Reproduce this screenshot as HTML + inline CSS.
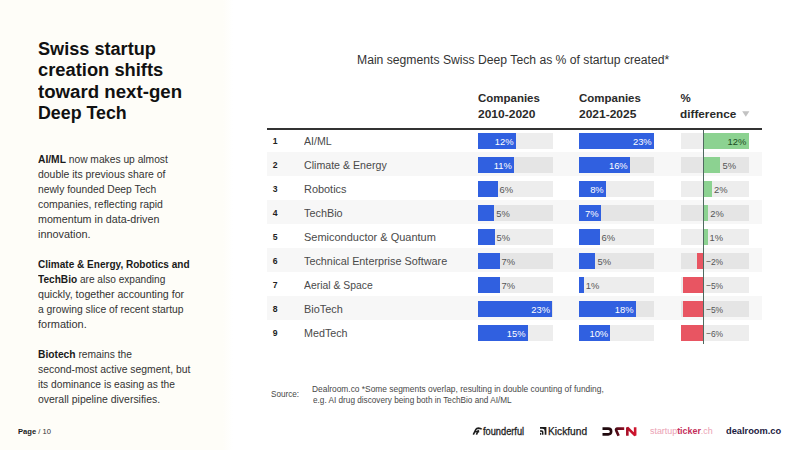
<!DOCTYPE html>
<html><head><meta charset="utf-8"><style>
html,body{margin:0;padding:0;}
body{width:800px;height:450px;position:relative;overflow:hidden;background:#fff;font-family:"Liberation Sans", sans-serif;}
.t{position:absolute;white-space:nowrap;transform-origin:left top;}
.r{position:absolute;}
b{font-weight:700;color:#1a1a1a;}
</style></head><body>
<div class="r" style="left:0.00px;top:0.00px;width:234.00px;height:450.00px;background:#fefdf8;background:linear-gradient(to right,#fefdf8 0,#fefdf8 223px,#fff 233px);"></div>
<div class="t" style="left:38.00px;top:39.76px;font-size:18px;line-height:18px;font-weight:700;color:#111;transform:scaleX(1.0069);">Swiss startup</div>
<div class="t" style="left:38.00px;top:61.26px;font-size:18px;line-height:18px;font-weight:700;color:#111;transform:scaleX(1.0181);">creation shifts</div>
<div class="t" style="left:38.00px;top:82.76px;font-size:18px;line-height:18px;font-weight:700;color:#111;transform:scaleX(1.0362);">toward next-gen</div>
<div class="t" style="left:38.00px;top:104.26px;font-size:18px;line-height:18px;font-weight:700;color:#111;transform:scaleX(0.9888);">Deep Tech</div>
<div class="t" style="left:37.60px;top:155.03px;font-size:10px;line-height:10px;font-weight:400;color:#333;transform:scaleX(1.0245);"><b>AI/ML</b> now makes up almost</div>
<div class="t" style="left:37.60px;top:170.03px;font-size:10px;line-height:10px;font-weight:400;color:#333;transform:scaleX(1.0425);">double its previous share of</div>
<div class="t" style="left:37.60px;top:185.03px;font-size:10px;line-height:10px;font-weight:400;color:#333;transform:scaleX(1.0289);">newly founded Deep Tech</div>
<div class="t" style="left:37.60px;top:200.03px;font-size:10px;line-height:10px;font-weight:400;color:#333;transform:scaleX(1.0452);">companies, reflecting rapid</div>
<div class="t" style="left:37.60px;top:215.03px;font-size:10px;line-height:10px;font-weight:400;color:#333;transform:scaleX(1.0705);">momentum in data-driven</div>
<div class="t" style="left:37.60px;top:230.03px;font-size:10px;line-height:10px;font-weight:400;color:#333;transform:scaleX(1.0848);">innovation.</div>
<div class="t" style="left:37.60px;top:260.04px;font-size:10px;line-height:10px;font-weight:400;color:#333;transform:scaleX(1.0040);"><b>Climate &amp; Energy, Robotics and</b></div>
<div class="t" style="left:37.60px;top:275.04px;font-size:10px;line-height:10px;font-weight:400;color:#333;transform:scaleX(1.0104);"><b>TechBio</b> are also expanding</div>
<div class="t" style="left:37.60px;top:290.04px;font-size:10px;line-height:10px;font-weight:400;color:#333;transform:scaleX(1.0612);">quickly, together accounting for</div>
<div class="t" style="left:37.60px;top:305.04px;font-size:10px;line-height:10px;font-weight:400;color:#333;transform:scaleX(1.0311);">a growing slice of recent startup</div>
<div class="t" style="left:37.60px;top:320.04px;font-size:10px;line-height:10px;font-weight:400;color:#333;transform:scaleX(1.0951);">formation.</div>
<div class="t" style="left:37.60px;top:350.04px;font-size:10px;line-height:10px;font-weight:400;color:#333;transform:scaleX(1.0241);"><b>Biotech</b> remains the</div>
<div class="t" style="left:37.60px;top:365.04px;font-size:10px;line-height:10px;font-weight:400;color:#333;transform:scaleX(1.0383);">second-most active segment, but</div>
<div class="t" style="left:37.60px;top:380.04px;font-size:10px;line-height:10px;font-weight:400;color:#333;transform:scaleX(1.0218);">its dominance is easing as the</div>
<div class="t" style="left:37.60px;top:395.04px;font-size:10px;line-height:10px;font-weight:400;color:#333;transform:scaleX(1.0464);">overall pipeline diversifies.</div>
<div class="t" style="left:18.49px;top:428.03px;font-size:8px;line-height:8px;font-weight:400;color:#333;transform:scaleX(0.9487);"><b>Page</b> / 10</div>
<div class="t" style="left:356.86px;top:53.84px;font-size:12px;line-height:12px;font-weight:400;color:#333;transform:scaleX(1.0140);">Main segments Swiss Deep Tech as % of startup created*</div>
<div class="t" style="left:478.34px;top:93.07px;font-size:11.5px;line-height:11.5px;font-weight:700;color:#2a2a2a;transform:scaleX(0.9985);">Companies</div>
<div class="t" style="left:478.34px;top:108.87px;font-size:11.5px;line-height:11.5px;font-weight:700;color:#2a2a2a;transform:scaleX(1.0446);">2010-2020</div>
<div class="t" style="left:579.10px;top:93.07px;font-size:11.5px;line-height:11.5px;font-weight:700;color:#2a2a2a;transform:scaleX(0.9985);">Companies</div>
<div class="t" style="left:579.10px;top:108.87px;font-size:11.5px;line-height:11.5px;font-weight:700;color:#2a2a2a;transform:scaleX(1.0428);">2021-2025</div>
<div class="t" style="left:680.50px;top:93.07px;font-size:11.5px;line-height:11.5px;font-weight:700;color:#2a2a2a;">%</div>
<div class="t" style="left:680.10px;top:108.87px;font-size:11.5px;line-height:11.5px;font-weight:700;color:#2a2a2a;transform:scaleX(1.0235);">difference</div>
<svg style="position:absolute;left:742px;top:111px" width="8" height="6" viewBox="0 0 8 6"><path d="M0.2 0.2 H7.4 L3.8 5.8 Z" fill="#c2c2c2"/></svg>
<div class="r" style="left:266.70px;top:151.70px;width:495.30px;height:24.00px;background:#f7f7f7;"></div>
<div class="r" style="left:266.70px;top:199.70px;width:495.30px;height:24.00px;background:#f7f7f7;"></div>
<div class="r" style="left:266.70px;top:247.70px;width:495.30px;height:24.00px;background:#f7f7f7;"></div>
<div class="r" style="left:266.70px;top:295.70px;width:495.30px;height:24.00px;background:#f7f7f7;"></div>
<div class="r" style="left:266.70px;top:127.70px;width:495.30px;height:2.00px;background:#333;"></div>
<div class="t" style="left:272.80px;top:137.32px;font-size:8.6px;line-height:8.6px;font-weight:700;color:#222;">1</div>
<div class="t" style="left:304.40px;top:136.13px;font-size:11.3px;line-height:11.3px;font-weight:400;color:#4a4a4a;transform:scaleX(0.9416);">AI/ML</div>
<div class="r" style="left:478.00px;top:132.60px;width:74.50px;height:16.00px;background:rgba(0,0,0,0.072);"></div>
<div class="r" style="left:478.00px;top:132.60px;width:37.80px;height:16.00px;background:#3060e0;"></div>
<div class="t" style="left:483.50px;top:137.24px;font-size:9.4px;line-height:9.4px;font-weight:400;color:#fff;width:30px;text-align:right;">12%</div>
<div class="r" style="left:578.80px;top:132.60px;width:75.10px;height:16.00px;background:rgba(0,0,0,0.072);"></div>
<div class="r" style="left:578.80px;top:132.60px;width:75.20px;height:16.00px;background:#3060e0;"></div>
<div class="t" style="left:621.70px;top:137.24px;font-size:9.4px;line-height:9.4px;font-weight:400;color:#fff;width:30px;text-align:right;">23%</div>
<div class="r" style="left:680.80px;top:132.60px;width:68.20px;height:16.00px;background:rgba(0,0,0,0.072);"></div>
<div class="r" style="left:703.60px;top:132.60px;width:45.00px;height:16.00px;background:#8cd291;"></div>
<div class="t" style="left:716.30px;top:137.24px;font-size:9.4px;line-height:9.4px;font-weight:400;color:#1a4d22;width:30px;text-align:right;">12%</div>
<div class="t" style="left:272.80px;top:161.32px;font-size:8.6px;line-height:8.6px;font-weight:700;color:#222;">2</div>
<div class="t" style="left:304.40px;top:160.13px;font-size:11.3px;line-height:11.3px;font-weight:400;color:#4a4a4a;transform:scaleX(0.9410);">Climate &amp; Energy</div>
<div class="r" style="left:478.00px;top:156.60px;width:74.50px;height:16.00px;background:rgba(0,0,0,0.072);"></div>
<div class="r" style="left:478.00px;top:156.60px;width:36.10px;height:16.00px;background:#3060e0;"></div>
<div class="t" style="left:481.80px;top:161.24px;font-size:9.4px;line-height:9.4px;font-weight:400;color:#fff;width:30px;text-align:right;">11%</div>
<div class="r" style="left:578.80px;top:156.60px;width:75.10px;height:16.00px;background:rgba(0,0,0,0.072);"></div>
<div class="r" style="left:578.80px;top:156.60px;width:51.20px;height:16.00px;background:#3060e0;"></div>
<div class="t" style="left:597.70px;top:161.24px;font-size:9.4px;line-height:9.4px;font-weight:400;color:#fff;width:30px;text-align:right;">16%</div>
<div class="r" style="left:680.80px;top:156.60px;width:68.20px;height:16.00px;background:rgba(0,0,0,0.072);"></div>
<div class="r" style="left:703.60px;top:156.60px;width:16.90px;height:16.00px;background:#8cd291;"></div>
<div class="t" style="left:722.50px;top:161.24px;font-size:9.4px;line-height:9.4px;font-weight:400;color:#555;">5%</div>
<div class="t" style="left:272.80px;top:185.32px;font-size:8.6px;line-height:8.6px;font-weight:700;color:#222;">3</div>
<div class="t" style="left:304.40px;top:184.13px;font-size:11.3px;line-height:11.3px;font-weight:400;color:#4a4a4a;transform:scaleX(0.9672);">Robotics</div>
<div class="r" style="left:478.00px;top:180.60px;width:74.50px;height:16.00px;background:rgba(0,0,0,0.072);"></div>
<div class="r" style="left:478.00px;top:180.60px;width:19.50px;height:16.00px;background:#3060e0;"></div>
<div class="t" style="left:499.50px;top:185.24px;font-size:9.4px;line-height:9.4px;font-weight:400;color:#555;">6%</div>
<div class="r" style="left:578.80px;top:180.60px;width:75.10px;height:16.00px;background:rgba(0,0,0,0.072);"></div>
<div class="r" style="left:578.80px;top:180.60px;width:27.20px;height:16.00px;background:#3060e0;"></div>
<div class="t" style="left:573.70px;top:185.24px;font-size:9.4px;line-height:9.4px;font-weight:400;color:#fff;width:30px;text-align:right;">8%</div>
<div class="r" style="left:680.80px;top:180.60px;width:68.20px;height:16.00px;background:rgba(0,0,0,0.072);"></div>
<div class="r" style="left:703.60px;top:180.60px;width:8.40px;height:16.00px;background:#8cd291;"></div>
<div class="t" style="left:714.00px;top:185.24px;font-size:9.4px;line-height:9.4px;font-weight:400;color:#555;">2%</div>
<div class="t" style="left:272.80px;top:209.32px;font-size:8.6px;line-height:8.6px;font-weight:700;color:#222;">4</div>
<div class="t" style="left:304.40px;top:208.13px;font-size:11.3px;line-height:11.3px;font-weight:400;color:#4a4a4a;transform:scaleX(0.9602);">TechBio</div>
<div class="r" style="left:478.00px;top:204.60px;width:74.50px;height:16.00px;background:rgba(0,0,0,0.072);"></div>
<div class="r" style="left:478.00px;top:204.60px;width:16.30px;height:16.00px;background:#3060e0;"></div>
<div class="t" style="left:496.30px;top:209.24px;font-size:9.4px;line-height:9.4px;font-weight:400;color:#555;">5%</div>
<div class="r" style="left:578.80px;top:204.60px;width:75.10px;height:16.00px;background:rgba(0,0,0,0.072);"></div>
<div class="r" style="left:578.80px;top:204.60px;width:22.10px;height:16.00px;background:#3060e0;"></div>
<div class="t" style="left:568.60px;top:209.24px;font-size:9.4px;line-height:9.4px;font-weight:400;color:#fff;width:30px;text-align:right;">7%</div>
<div class="r" style="left:680.80px;top:204.60px;width:68.20px;height:16.00px;background:rgba(0,0,0,0.072);"></div>
<div class="r" style="left:703.60px;top:204.60px;width:4.70px;height:16.00px;background:#8cd291;"></div>
<div class="t" style="left:710.30px;top:209.24px;font-size:9.4px;line-height:9.4px;font-weight:400;color:#555;">2%</div>
<div class="t" style="left:272.80px;top:233.32px;font-size:8.6px;line-height:8.6px;font-weight:700;color:#222;">5</div>
<div class="t" style="left:304.40px;top:232.13px;font-size:11.3px;line-height:11.3px;font-weight:400;color:#4a4a4a;transform:scaleX(0.9716);">Semiconductor &amp; Quantum</div>
<div class="r" style="left:478.00px;top:228.60px;width:74.50px;height:16.00px;background:rgba(0,0,0,0.072);"></div>
<div class="r" style="left:478.00px;top:228.60px;width:16.50px;height:16.00px;background:#3060e0;"></div>
<div class="t" style="left:496.50px;top:233.24px;font-size:9.4px;line-height:9.4px;font-weight:400;color:#555;">5%</div>
<div class="r" style="left:578.80px;top:228.60px;width:75.10px;height:16.00px;background:rgba(0,0,0,0.072);"></div>
<div class="r" style="left:578.80px;top:228.60px;width:20.80px;height:16.00px;background:#3060e0;"></div>
<div class="t" style="left:601.60px;top:233.24px;font-size:9.4px;line-height:9.4px;font-weight:400;color:#555;">6%</div>
<div class="r" style="left:680.80px;top:228.60px;width:68.20px;height:16.00px;background:rgba(0,0,0,0.072);"></div>
<div class="r" style="left:703.60px;top:228.60px;width:4.00px;height:16.00px;background:#8cd291;"></div>
<div class="t" style="left:709.60px;top:233.24px;font-size:9.4px;line-height:9.4px;font-weight:400;color:#555;">1%</div>
<div class="t" style="left:272.80px;top:257.32px;font-size:8.6px;line-height:8.6px;font-weight:700;color:#222;">6</div>
<div class="t" style="left:304.40px;top:256.13px;font-size:11.3px;line-height:11.3px;font-weight:400;color:#4a4a4a;transform:scaleX(0.9581);">Technical Enterprise Software</div>
<div class="r" style="left:478.00px;top:252.60px;width:74.50px;height:16.00px;background:rgba(0,0,0,0.072);"></div>
<div class="r" style="left:478.00px;top:252.60px;width:21.50px;height:16.00px;background:#3060e0;"></div>
<div class="t" style="left:501.50px;top:257.24px;font-size:9.4px;line-height:9.4px;font-weight:400;color:#555;">7%</div>
<div class="r" style="left:578.80px;top:252.60px;width:75.10px;height:16.00px;background:rgba(0,0,0,0.072);"></div>
<div class="r" style="left:578.80px;top:252.60px;width:16.70px;height:16.00px;background:#3060e0;"></div>
<div class="t" style="left:597.50px;top:257.24px;font-size:9.4px;line-height:9.4px;font-weight:400;color:#555;">5%</div>
<div class="r" style="left:680.80px;top:252.60px;width:68.20px;height:16.00px;background:rgba(0,0,0,0.072);"></div>
<div class="r" style="left:697.00px;top:252.60px;width:6.60px;height:16.00px;background:#e85562;"></div>
<div class="t" style="left:705.80px;top:257.24px;font-size:9.4px;line-height:9.4px;font-weight:400;color:#555;transform:scaleX(0.9000);">&minus;2%</div>
<div class="t" style="left:272.80px;top:281.32px;font-size:8.6px;line-height:8.6px;font-weight:700;color:#222;">7</div>
<div class="t" style="left:304.40px;top:280.13px;font-size:11.3px;line-height:11.3px;font-weight:400;color:#4a4a4a;transform:scaleX(0.9192);">Aerial &amp; Space</div>
<div class="r" style="left:478.00px;top:276.60px;width:74.50px;height:16.00px;background:rgba(0,0,0,0.072);"></div>
<div class="r" style="left:478.00px;top:276.60px;width:21.50px;height:16.00px;background:#3060e0;"></div>
<div class="t" style="left:501.50px;top:281.24px;font-size:9.4px;line-height:9.4px;font-weight:400;color:#555;">7%</div>
<div class="r" style="left:578.80px;top:276.60px;width:75.10px;height:16.00px;background:rgba(0,0,0,0.072);"></div>
<div class="r" style="left:578.80px;top:276.60px;width:5.00px;height:16.00px;background:#3060e0;"></div>
<div class="t" style="left:585.80px;top:281.24px;font-size:9.4px;line-height:9.4px;font-weight:400;color:#555;">1%</div>
<div class="r" style="left:680.80px;top:276.60px;width:68.20px;height:16.00px;background:rgba(0,0,0,0.072);"></div>
<div class="r" style="left:682.80px;top:276.60px;width:20.80px;height:16.00px;background:#e85562;"></div>
<div class="t" style="left:705.80px;top:281.24px;font-size:9.4px;line-height:9.4px;font-weight:400;color:#555;transform:scaleX(0.9000);">&minus;5%</div>
<div class="t" style="left:272.80px;top:305.32px;font-size:8.6px;line-height:8.6px;font-weight:700;color:#222;">8</div>
<div class="t" style="left:304.40px;top:304.13px;font-size:11.3px;line-height:11.3px;font-weight:400;color:#4a4a4a;transform:scaleX(0.9652);">BioTech</div>
<div class="r" style="left:478.00px;top:300.60px;width:74.50px;height:16.00px;background:rgba(0,0,0,0.072);"></div>
<div class="r" style="left:478.00px;top:300.60px;width:74.30px;height:16.00px;background:#3060e0;"></div>
<div class="t" style="left:520.00px;top:305.24px;font-size:9.4px;line-height:9.4px;font-weight:400;color:#fff;width:30px;text-align:right;">23%</div>
<div class="r" style="left:578.80px;top:300.60px;width:75.10px;height:16.00px;background:rgba(0,0,0,0.072);"></div>
<div class="r" style="left:578.80px;top:300.60px;width:57.00px;height:16.00px;background:#3060e0;"></div>
<div class="t" style="left:603.50px;top:305.24px;font-size:9.4px;line-height:9.4px;font-weight:400;color:#fff;width:30px;text-align:right;">18%</div>
<div class="r" style="left:680.80px;top:300.60px;width:68.20px;height:16.00px;background:rgba(0,0,0,0.072);"></div>
<div class="r" style="left:682.80px;top:300.60px;width:20.80px;height:16.00px;background:#e85562;"></div>
<div class="t" style="left:705.80px;top:305.24px;font-size:9.4px;line-height:9.4px;font-weight:400;color:#555;transform:scaleX(0.9000);">&minus;5%</div>
<div class="t" style="left:272.80px;top:329.32px;font-size:8.6px;line-height:8.6px;font-weight:700;color:#222;">9</div>
<div class="t" style="left:304.40px;top:328.13px;font-size:11.3px;line-height:11.3px;font-weight:400;color:#4a4a4a;transform:scaleX(0.9500);">MedTech</div>
<div class="r" style="left:478.00px;top:324.60px;width:74.50px;height:16.00px;background:rgba(0,0,0,0.072);"></div>
<div class="r" style="left:478.00px;top:324.60px;width:49.80px;height:16.00px;background:#3060e0;"></div>
<div class="t" style="left:495.50px;top:329.24px;font-size:9.4px;line-height:9.4px;font-weight:400;color:#fff;width:30px;text-align:right;">15%</div>
<div class="r" style="left:578.80px;top:324.60px;width:75.10px;height:16.00px;background:rgba(0,0,0,0.072);"></div>
<div class="r" style="left:578.80px;top:324.60px;width:31.70px;height:16.00px;background:#3060e0;"></div>
<div class="t" style="left:578.20px;top:329.24px;font-size:9.4px;line-height:9.4px;font-weight:400;color:#fff;width:30px;text-align:right;">10%</div>
<div class="r" style="left:680.80px;top:324.60px;width:68.20px;height:16.00px;background:rgba(0,0,0,0.072);"></div>
<div class="r" style="left:680.70px;top:324.60px;width:22.90px;height:16.00px;background:#e85562;"></div>
<div class="t" style="left:705.80px;top:329.24px;font-size:9.4px;line-height:9.4px;font-weight:400;color:#555;transform:scaleX(0.9000);">&minus;6%</div>
<div class="r" style="left:703.10px;top:129.50px;width:1.00px;height:214.60px;background:#4f6a60;"></div>
<div class="t" style="left:271.20px;top:390.29px;font-size:8.4px;line-height:8.4px;font-weight:400;color:#484848;transform:scaleX(0.9750);">Source:</div>
<div class="t" style="left:311.98px;top:384.92px;font-size:8.6px;line-height:8.6px;font-weight:400;color:#484848;transform:scaleX(0.9755);">Dealroom.co *Some segments overlap, resulting in double counting of funding,</div>
<div class="t" style="left:312.78px;top:395.82px;font-size:8.6px;line-height:8.6px;font-weight:400;color:#484848;transform:scaleX(0.9543);">e.g. AI drug discovery being both in TechBio and AI/ML</div>
<svg style="position:absolute;left:472px;top:427px" width="11" height="9" viewBox="0 0 11 9"><g fill="none" stroke="#1e1e1e" stroke-width="1.6" stroke-linecap="butt"><path d="M1.3 7.6 L3.9 2.4 Q4.6 1.1 6.4 1.1 Q8.6 1.2 9.7 2.3"/><path d="M4.4 7.6 L6.5 3.2"/><path d="M3.0 4.6 H7.2"/></g></svg>
<div class="t" style="left:483.00px;top:426.74px;font-size:10.0px;line-height:10.0px;font-weight:400;color:#1e1e1e;transform:scaleX(0.9250);-webkit-text-stroke:0.3px #1e1e1e;">founderful</div>
<svg style="position:absolute;left:540px;top:427px" width="7" height="8" viewBox="0 0 7 8"><path d="M0 0 H6.4 V7.8 H4.7 V4.2 Q4.7 1.8 2.3 1.8 H0 Z" fill="#1a1a1a"/><path d="M0 3.2 H1.8 Q3.4 3.2 3.4 4.8 V7.8 H2.0 V5.6 Q2.0 4.7 1.1 4.7 H0 Z" fill="#1a1a1a"/><rect x="0" y="5.9" width="1.3" height="1.9" fill="#1a1a1a"/></svg>
<div class="t" style="left:547.86px;top:426.84px;font-size:10.0px;line-height:10.0px;font-weight:400;color:#1a1a1a;transform:scaleX(1.0189);-webkit-text-stroke:0.25px #1a1a1a;">Kickfund</div>
<svg style="position:absolute;left:602px;top:426px" width="36" height="11" viewBox="0 0 36 11"><defs><linearGradient id="dg" gradientUnits="userSpaceOnUse" x1="0" x2="35" y1="0" y2="0"><stop offset="0" stop-color="#1a0a0e"/><stop offset="0.3" stop-color="#2a0a10"/><stop offset="0.55" stop-color="#7a0c20"/><stop offset="0.8" stop-color="#c0102a"/><stop offset="1" stop-color="#d41830"/></linearGradient></defs><g fill="none" stroke="url(#dg)" stroke-width="2.6" stroke-linecap="butt" stroke-linejoin="bevel"><path d="M0.5 2.6 H6.2 Q9.15 2.6 9.15 5.5 Q9.15 8.4 6.2 8.4 H0.5"/><path d="M22.2 2.6 H15.6 Q13.3 2.6 14.3 4.6 L16.6 9.8"/><path d="M25.35 9.8 V1.6 L33.15 9.4 V1.2"/></g></svg>
<div class="t" style="left:649.78px;top:425.67px;font-size:9.6px;line-height:9.6px;font-weight:400;color:#eba2b4;transform:scaleX(0.9254);"><span style="font-weight:400">startup</span><b style="color:#c42d5a">ticker</b><span>.ch</span></div>
<div class="t" style="left:725.78px;top:426.12px;font-size:9.9px;line-height:9.9px;font-weight:700;color:#1c2040;transform:scaleX(0.9399);">dealroom.co</div>
</body></html>
